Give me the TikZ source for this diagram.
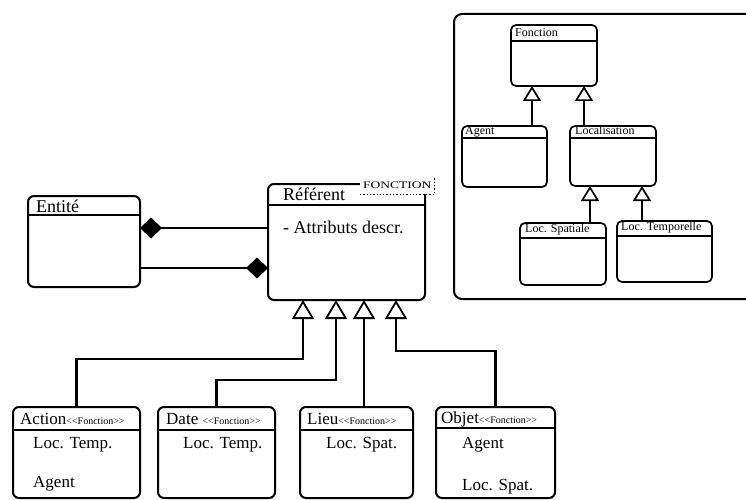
\documentclass[tikz,border=0pt]{standalone}
\usepackage{fontspec}
\setmainfont{Liberation Serif}
\usetikzlibrary{arrows.meta}

\begin{document}
\begin{tikzpicture}[x=1pt,y=-1pt,
  classbox/.style={draw,line width=2pt,rounded corners=6pt,anchor=north west,inner sep=0pt,outer sep=0pt},
  smallbox/.style={classbox,line width=1.7pt,rounded corners=5pt},
  title/.style={anchor=base west,inner sep=0pt,font=\fontsize{18}{20}\selectfont},
  body/.style={anchor=base west,inner sep=0pt,font=\fontsize{17}{19}\selectfont},
  tiny/.style={anchor=base west,inner sep=0pt,font=\fontsize{12}{13}\selectfont},
  gen/.style={line width=2.3pt,-{Triangle[open,length=19pt,width=22pt,line width=1.8pt]}},
  gensmall/.style={line width=2.5pt,-{Triangle[open,length=15pt,width=18pt,line width=1.7pt]}},
  comp/.style={line width=2pt,-{Diamond[length=22pt,width=21pt]}}]
\clip (0,0) rectangle (746,500);

% big classes
\node[classbox,minimum width=112,minimum height=91] (entite) at (28,196) {};
\node[classbox,minimum width=157,minimum height=116] (referent) at (268,184) {};
\node[title] (entiteT) at (36,212) {Entité};
\node[title] (referentT) at (283,200) {Référent};
\node[title] (attr) at (283,233) {- Attributs descr.};

% template parameter
\node[anchor=north west,fill=white,inner sep=0pt,minimum width=74,minimum height=17,font=\fontsize{10}{11}\selectfont] (tparam) at (360,177) {\scalebox{1.35}[1]{FONCTION}};
\draw[dotted,line width=1.3pt] (tparam.south west) -| (tparam.north east);

% compositions
\draw[comp] (referent.west |- 0,228) -- (entite.east |- 0,228);
\draw[comp] (entite.east |- 0,268) -- (referent.west |- 0,268);

% sub classes
\node[classbox,minimum width=127,minimum height=91] (action) at (13,407) {};
\node[classbox,minimum width=117,minimum height=91] (date) at (158,407) {};
\node[classbox,minimum width=113,minimum height=91] (lieu) at (300,407) {};
\node[classbox,minimum width=119,minimum height=91] (objet) at (436,407) {};

\node[body] (actionT) at (20,424) {Action{\fontsize{10}{11}\selectfont <\kern0pt<Fonction>\kern0pt>}};
\node[body] (dateT) at (166,424) {Date {\fontsize{10}{11}\selectfont <\kern0pt<Fonction>\kern0pt>}};
\node[body] (lieuT) at (307,424) {Lieu{\fontsize{10}{11}\selectfont <\kern0pt<Fonction>\kern0pt>}};
\node[body] (objetT) at (441,423) {Objet{\fontsize{10}{11}\selectfont <\kern0pt<Fonction>\kern0pt>}};

\node[body] (actionA) at (33,448) {Loc. Temp.};
\node[body] (actionB) at (33,487) {Agent};
\node[body] (dateA) at (183,448) {Loc. Temp.};
\node[body] (lieuA) at (326,448) {Loc. Spat.};
\node[body] (objetA) at (462,448) {Agent};
\node[body] (objetB) at (462,490) {Loc. Spat.};

\draw[gen] (action.north) |- (303,359) -- (303,0 |- referent.south);
\draw[gen] (date.north) |- (336,380) -- (336,0 |- referent.south);
\draw[gen] (364,0 |- lieu.north) -- (364,0 |- referent.south);
\draw[gen] (objet.north) |- (396,351) -- (396,0 |- referent.south);

% right panel
\draw[line width=2pt,rounded corners=8pt] (454,14) rectangle (790,299);
\node[smallbox,minimum width=86,minimum height=61] (fonction) at (511,25) {};
\node[smallbox,minimum width=85,minimum height=61] (agent) at (462,126) {};
\node[smallbox,minimum width=86,minimum height=60] (localis) at (570,126) {};
\node[smallbox,minimum width=86,minimum height=62] (locspat) at (520,223) {};
\node[smallbox,minimum width=95,minimum height=61] (loctemp) at (617,221) {};

\node[tiny] (fonctionT) at (515,37) {Fonction};
\node[tiny] (agentT) at (465,135) {Agent};
\node[tiny] (localisT) at (575,135) {Localisation};
\node[tiny] (locspatT) at (525,232) {Loc. Spatiale};
\node[tiny] (loctempT) at (621,230) {Loc. Temporelle};

\draw[gensmall] (532,0 |- agent.north) -- (532,0 |- fonction.south);
\draw[gensmall] (584,0 |- localis.north) -- (584,0 |- fonction.south);
\draw[gensmall] (590,0 |- locspat.north) -- (590,0 |- localis.south);
\draw[gensmall] (642,0 |- loctemp.north) -- (642,0 |- localis.south);

% header lines
\foreach \n/\y in {entite/215,referent/205,action/430,date/430,lieu/430,objet/428}
  \draw[line width=2pt] (\n.west |- 0,\y) -- (\n.east |- 0,\y);
\foreach \n/\y in {fonction/41,agent/138,localis/138,locspat/238,loctemp/236}
  \draw[line width=1.7pt] (\n.west |- 0,\y) -- (\n.east |- 0,\y);
\end{tikzpicture}
\end{document}
